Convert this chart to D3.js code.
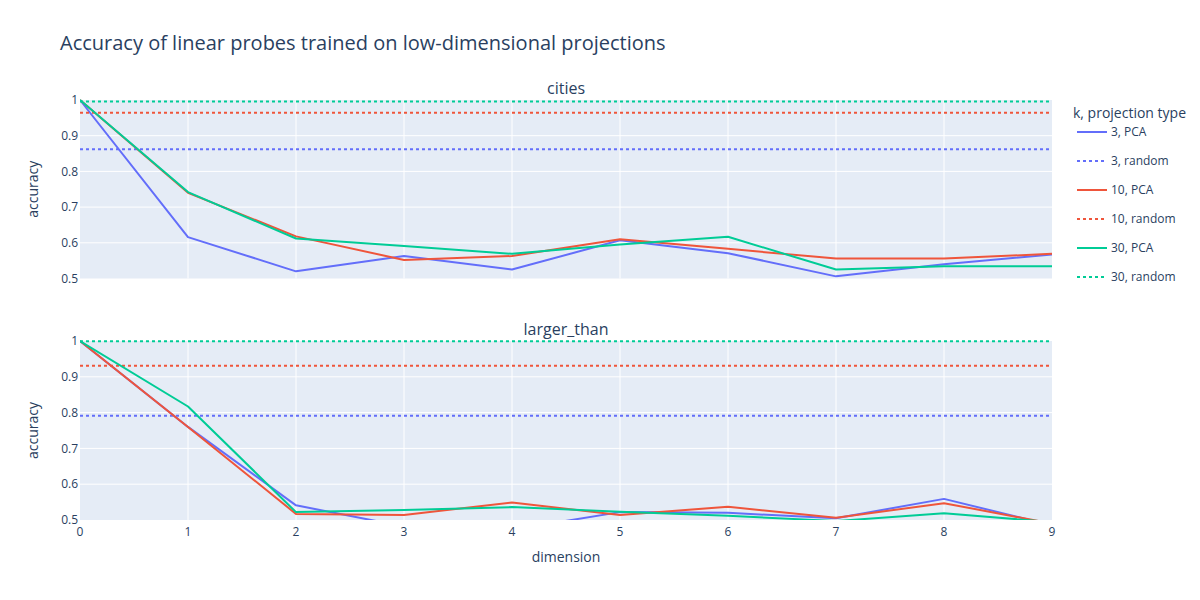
<!DOCTYPE html>
<html>
<head>
<meta charset="utf-8">
<script src="https://cdn.jsdelivr.net/npm/d3@7"></script>
<style>
body{margin:0;background:#fff;}
svg{font-family:"Open Sans",sans-serif;}
</style>
</head>
<body>
<svg id="chart" width="1200" height="600"></svg>
<script>
const dims = [0,1,2,3,4,5,6,7,8,9];
const yTicks = [0.5,0.6,0.7,0.8,0.9,1];
const panels = ["cities","larger_than"];
const seriesNames = ["3, PCA","3, random","10, PCA","10, random","30, PCA","30, random"];
const colors = ["#636efa","#636efa","#EF553B","#EF553B","#00cc96","#00cc96"];

// cities
const citiesPCA3  = [1.0,0.616,0.520,0.563,0.525,0.607,0.571,0.506,0.540,0.567];
const citiesPCA10 = [1.0,0.740,0.618,0.552,0.563,0.610,0.583,0.556,0.556,0.569];
const citiesPCA30 = [1.0,0.742,0.612,0.591,0.569,0.595,0.617,0.525,0.534,0.534];
const citiesRandom = [0.862,0.964,0.996]; // k=3,10,30

// larger_than
const largerPCA3  = [1.0,0.760,0.541,0.482,0.473,0.522,0.520,0.505,0.559,0.485];
const largerPCA10 = [1.0,0.760,0.517,0.514,0.549,0.514,0.537,0.506,0.547,0.490];
const largerPCA30 = [1.0,0.817,0.522,0.528,0.536,0.523,0.512,0.497,0.519,0.494];
const largerRandom = [0.791,0.931,0.999];

const panelData = [
  {title:"cities", pca:[citiesPCA3,citiesPCA10,citiesPCA30], rnd:citiesRandom},
  {title:"larger_than", pca:[largerPCA3,largerPCA10,largerPCA30], rnd:largerRandom}
];

const svg = d3.select("#chart");
const textColor = "#2a3f5f";
const L = 80, R = 1052;
const domains = [[100,278.5],[341,520]];

svg.append("text").attr("x",60).attr("y",50).attr("fill",textColor)
  .attr("font-size",20).text("Accuracy of linear probes trained on low-dimensional projections");

const x = d3.scaleLinear().domain([0,9]).range([L,R]);

panelData.forEach((p,i)=>{
  const [top,bot] = domains[i];
  const y = d3.scaleLinear().domain([0.5,1]).range([bot,top]);
  const g = svg.append("g");
  g.append("rect").attr("x",L).attr("y",top).attr("width",R-L).attr("height",bot-top).attr("fill","#E5ECF6");
  // grid
  g.selectAll(".gx").data(dims.slice(1,-1)).enter().append("line")
    .attr("x1",d=>x(d)).attr("x2",d=>x(d)).attr("y1",top).attr("y2",bot)
    .attr("stroke","#fff").attr("stroke-width",1);
  g.selectAll(".gy").data(yTicks.slice(1,-1)).enter().append("line")
    .attr("x1",L).attr("x2",R).attr("y1",d=>y(d)).attr("y2",d=>y(d))
    .attr("stroke","#fff").attr("stroke-width",1);
  // y tick labels
  g.selectAll(".yt").data(yTicks).enter().append("text")
    .attr("x",L-2).attr("y",d=>y(d)).attr("dy","0.35em").attr("text-anchor","end")
    .attr("font-size",12).attr("fill",textColor).text(d=>d3.format("")(d));
  // y axis title
  g.append("text").attr("transform",`translate(38,${(top+bot)/2}) rotate(-90)`)
    .attr("text-anchor","middle").attr("font-size",14).attr("fill",textColor).text("accuracy");
  // subplot title
  g.append("text").attr("x",(L+R)/2).attr("y",top-6).attr("text-anchor","middle")
    .attr("font-size",16).attr("fill",textColor).text(p.title);
  // clip
  const cid = "clip"+i;
  svg.append("clipPath").attr("id",cid).append("rect").attr("x",L).attr("y",top-1).attr("width",R-L).attr("height",bot-top+1);
  const pg = g.append("g").attr("clip-path",`url(#${cid})`);
  const line = d3.line().x((d,j)=>x(dims[j])).y(d=>y(d));
  p.pca.forEach((vals,k)=>{
    // random first (drawn in legend order)
  });
  for(let k=0;k<3;k++){
    pg.append("path").datum(p.pca[k]).attr("d",line).attr("fill","none")
      .attr("stroke",colors[2*k]).attr("stroke-width",2).attr("stroke-linejoin","round");
    pg.append("line").attr("x1",x(0)).attr("x2",x(9)).attr("y1",y(p.rnd[k])).attr("y2",y(p.rnd[k]))
      .attr("stroke",colors[2*k+1]).attr("stroke-width",2).attr("stroke-dasharray","3,3");
  }
  if(i===1){
    g.selectAll(".xt").data(dims).enter().append("text")
      .attr("x",d=>x(d)).attr("y",bot+16).attr("text-anchor","middle")
      .attr("font-size",12).attr("fill",textColor).text(d=>d);
  }
});

svg.append("text").attr("x",(L+R)/2).attr("y",562).attr("text-anchor","middle")
  .attr("font-size",14).attr("fill",textColor).text("dimension");

// legend
const lg = svg.append("g");
lg.append("text").attr("x",1073).attr("y",118).attr("font-size",14).attr("fill",textColor).text("k, projection type");
seriesNames.forEach((n,j)=>{
  const yy = 132 + j*29;
  lg.append("line").attr("x1",1077).attr("x2",1107).attr("y1",yy).attr("y2",yy)
    .attr("stroke",colors[j]).attr("stroke-width",2)
    .attr("stroke-dasharray", j%2===1 ? "3,3" : null);
  lg.append("text").attr("x",1111).attr("y",yy).attr("dy","0.35em").attr("font-size",12)
    .attr("fill",textColor).text(n);
});
</script>
</body>
</html>
